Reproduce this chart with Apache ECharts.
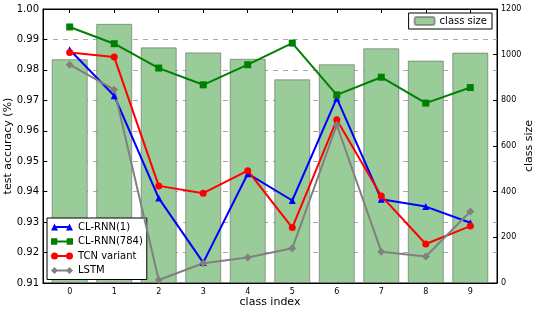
<!DOCTYPE html>
<html><head><meta charset="utf-8">
<script src="https://cdn.jsdelivr.net/npm/echarts@6/dist/echarts.min.js"></script>
<style>html,body{margin:0;padding:0;background:#fff}#c{width:540px;height:313px}</style>
</head><body><div id="c"></div>
<script>
const classes = [0,1,2,3,4,5,6,7,8,9];
const classSize = [980,1135,1032,1010,982,892,958,1028,974,1009];
const clrnn1 = [0.9866,0.9715,0.9379,0.9167,0.9459,0.9371,0.9707,0.9375,0.9351,0.9298];
const clrnn784 = [0.9941,0.9886,0.9806,0.9751,0.9817,0.9888,0.9718,0.9776,0.9691,0.9742];
const tcn = [0.9857,0.9842,0.9419,0.9395,0.9469,0.9282,0.9636,0.9386,0.9228,0.9287];
const lstm = [0.9817,0.9735,0.9110,0.9165,0.9184,0.9214,0.9619,0.9203,0.9187,0.9335];
const leftTicks = [0.91,0.92,0.93,0.94,0.95,0.96,0.97,0.98,0.99,1.00];
const rightTicks = [0,200,400,600,800,1000,1200];

const F = 'DejaVu Sans';
const pair = a => a.map((v,i)=>[classes[i], v]);
// legend icons: line with a marker at each end (matplotlib style)
const BAR = 'M7,5 H37 V9 H7 Z ';
const ICON = {
  tri: 'path://' + BAR + 'M0,14 L7,0 L14,14 Z M30,14 L37,0 L44,14 Z',
  sq: 'path://' + BAR + 'M1,1 H13 V13 H1 Z M31,1 H43 V13 H31 Z',
  circ: 'path://' + BAR + 'M0,7 A7,7 0 1,1 14,7 A7,7 0 1,1 0,7 Z M30,7 A7,7 0 1,1 44,7 A7,7 0 1,1 30,7 Z',
  dia: 'path://' + BAR + 'M7,0 L14,7 L7,14 L0,7 Z M37,0 L44,7 L37,14 L30,7 Z'
};
const chart = echarts.init(document.getElementById('c'), null, {renderer:'canvas'});
function lineSeries(name, data, color, symbol, size){
  return {name, type:'line', xAxisIndex:0, yAxisIndex:0, data: pair(data),
    symbol, symbolSize:size, lineStyle:{color, width:2}, itemStyle:{color},
    z:5, animation:false};
}
chart.setOption({
  animation:false,
  textStyle:{fontFamily:F},
  grid:{left:43, right:43, top:9, bottom:30, containLabel:false, outerBoundsMode:'none',
    show:true, borderColor:'#000', borderWidth:1, backgroundColor:'transparent'},
  xAxis:[
   {type:'value', min:-0.6, max:9.6, position:'bottom',
    name:'class index', nameLocation:'middle', nameGap:14, nameMoveOverlap:false,
    nameTextStyle:{fontFamily:F, fontSize:11, color:'#000'},
    axisLine:{show:true, onZero:false, lineStyle:{color:'#000'}},
    axisTick:{show:true, inside:true, length:4, lineStyle:{color:'#000'}, customValues:classes},
    axisLabel:{fontFamily:F, fontSize:8, color:'#000', margin:5, customValues:classes},
    splitLine:{show:false}},
   {type:'value', min:-0.6, max:9.6, position:'top',
    axisLine:{show:true, onZero:false, lineStyle:{color:'#000'}},
    axisTick:{show:true, inside:true, length:4, lineStyle:{color:'#000'}, customValues:classes},
    axisLabel:{show:false},
    splitLine:{show:false}}
  ],
  yAxis:[
    {type:'value', min:0.91, max:1.0, interval:0.01, position:'left',
     name:'test accuracy (%)', nameLocation:'middle', nameGap:29, nameRotate:90, nameMoveOverlap:false,
     nameTextStyle:{fontFamily:F, fontSize:11, color:'#000'},
     axisLine:{show:true, onZero:false, lineStyle:{color:'#000'}},
     axisTick:{show:true, inside:true, length:4, lineStyle:{color:'#000'}},
     axisLabel:{fontFamily:F, fontSize:10, color:'#000', margin:4, formatter:v=>v.toFixed(2), customValues:leftTicks},
     splitLine:{show:true, lineStyle:{color:'#aaa', type:[5,5], width:1}}},
    {type:'value', min:0, max:1200, interval:200, position:'right',
     name:'class size', nameLocation:'middle', nameGap:27, nameRotate:90, nameMoveOverlap:false,
     nameTextStyle:{fontFamily:F, fontSize:11, color:'#000'},
     axisLine:{show:true, onZero:false, lineStyle:{color:'#000'}},
     axisTick:{show:true, inside:true, length:4, lineStyle:{color:'#000'}},
     axisLabel:{fontFamily:F, fontSize:8, color:'#000', margin:4, formatter:v=>String(v), customValues:rightTicks},
     splitLine:{show:false}}
  ],
  legend:[
    {data:['class size'], right:48, top:13, orient:'vertical',
     backgroundColor:'#fff', borderColor:'#000', borderWidth:1, borderRadius:0,
     padding:[3,5,3,5], itemWidth:20, itemHeight:8,
     textStyle:{fontFamily:F, fontSize:10, color:'#000'}},
    {data:[{name:'CL-RNN(1)', icon:ICON.tri},{name:'CL-RNN(784)', icon:ICON.sq},
           {name:'TCN variant', icon:ICON.circ},{name:'LSTM', icon:ICON.dia}],
     left:47, top:218, orient:'vertical',
     backgroundColor:'#fff', borderColor:'#000', borderWidth:1, borderRadius:0,
     padding:[4,4,4,4], itemWidth:22, itemHeight:7, itemGap:4.5,
     textStyle:{fontFamily:F, fontSize:10, color:'#000'}}
  ],
  series:[
    {name:'class size', type:'bar', xAxisIndex:0, yAxisIndex:1, data: pair(classSize),
     barWidth:36, itemStyle:{color:'#99cc99', borderColor:'rgba(100,100,100,0.6)', borderWidth:1}, z:1},
    lineSeries('CL-RNN(1)', clrnn1, '#0000ff', 'triangle', 7),
    lineSeries('CL-RNN(784)', clrnn784, '#008000', 'rect', 7),
    lineSeries('TCN variant', tcn, '#ff0000', 'circle', 7),
    lineSeries('LSTM', lstm, '#808080', 'diamond', 8)
  ]
});
</script></body></html>
